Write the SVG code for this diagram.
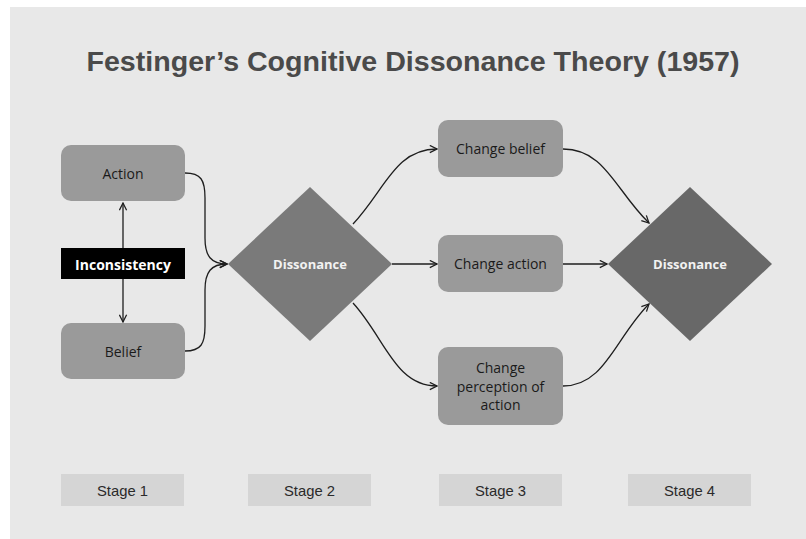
<svg xmlns="http://www.w3.org/2000/svg" width="806" height="539" viewBox="0 0 806 539">
  <defs>
    <style>
      .box { fill: #9a9a9a; }
      .stage { fill: #d5d5d5; }
      .lbl { font-family: "Open Sans", "Liberation Sans", sans-serif; font-size: 14px; fill: #1a1a1a; text-anchor: middle; dominant-baseline: central; }
      .dlbl { font-family: "Open Sans", "Liberation Sans", sans-serif; font-size: 13px; font-weight: bold; fill: #f2f2f2; text-anchor: middle; dominant-baseline: central; }
      .slbl { font-family: "Liberation Sans", "DejaVu Sans", sans-serif; font-size: 15px; fill: #2a2a2a; text-anchor: middle; dominant-baseline: central; }
      .conn { fill: none; stroke: #1e1e1e; stroke-width: 1.3; marker-end: url(#arrow); }
    </style>
    <marker id="arrow" viewBox="0 0 10 10" refX="9" refY="5" markerWidth="9" markerHeight="9" markerUnits="userSpaceOnUse" orient="auto-start-reverse">
      <path d="M1,1 L9,5 L1,9" fill="none" stroke="#1e1e1e" stroke-width="1.4"/>
    </marker>
  </defs>

  <!-- canvas -->
  <rect x="0" y="0" width="806" height="539" fill="#ffffff"/>
  <rect x="10" y="7" width="796" height="532" fill="#e8e8e8"/>

  <!-- title -->
  <text x="413" y="71" text-anchor="middle" font-family="Liberation Sans, sans-serif" font-size="28" font-weight="bold" fill="#4a4a4a" textLength="653" lengthAdjust="spacingAndGlyphs">Festinger’s Cognitive Dissonance Theory (1957)</text>

  <!-- connectors -->
  <g id="connectors">
    <path class="conn" d="M123,248 L123,203"/>
    <path class="conn" d="M123,279 L123,322"/>
    <path class="conn" d="M185,173 C201,173 205,180 205,198 L205,238 C205,256 211,264 227,264"/>
    <path class="conn" d="M185,351 C201,351 205,344 205,326 L205,290 C205,272 211,264 227,264"/>
    <path class="conn" d="M353,224 C385,190 395,149 437,149"/>
    <path class="conn" d="M392,264 L437,264"/>
    <path class="conn" d="M353,303 C385,338 395,386 437,386"/>
    <path class="conn" d="M563,149 C605,149 615,190 649,223"/>
    <path class="conn" d="M563,264 L607,264"/>
    <path class="conn" d="M563,386 C605,386 615,338 649,304"/>
  </g>

  <!-- stage 1 -->
  <g id="action">
    <rect class="box" x="61" y="145" width="124" height="56" rx="10"/>
    <text class="lbl" x="123" y="173">Action</text>
  </g>
  <g id="inconsistency">
    <rect x="61" y="248" width="124" height="31" fill="#000000"/>
    <text x="123" y="264" font-family="Open Sans, Liberation Sans, sans-serif" font-size="14" font-weight="bold" fill="#ffffff" text-anchor="middle" dominant-baseline="central">Inconsistency</text>
  </g>
  <g id="belief">
    <rect class="box" x="61" y="323" width="124" height="56" rx="10"/>
    <text class="lbl" x="123" y="351">Belief</text>
  </g>

  <!-- stage 2 -->
  <g id="dissonance-1">
    <polygon points="310,187 392,264 310,341 228,264" fill="#7a7a7a"/>
    <text class="dlbl" x="310" y="264">Dissonance</text>
  </g>

  <!-- stage 3 -->
  <g id="change-belief">
    <rect class="box" x="438" y="120" width="125" height="57" rx="10"/>
    <text class="lbl" x="500.5" y="148">Change belief</text>
  </g>
  <g id="change-action">
    <rect class="box" x="438" y="235" width="125" height="57" rx="10"/>
    <text class="lbl" x="500.5" y="263">Change action</text>
  </g>
  <g id="change-perception">
    <rect class="box" x="438" y="347" width="125" height="78" rx="10"/>
    <text class="lbl" x="500.5" y="367">Change</text>
    <text class="lbl" x="500.5" y="386">perception of</text>
    <text class="lbl" x="500.5" y="404">action</text>
  </g>

  <!-- stage 4 -->
  <g id="dissonance-2">
    <polygon points="690,187 772,264 690,341 608,264" fill="#686868"/>
    <text class="dlbl" x="690" y="264">Dissonance</text>
  </g>

  <!-- stage labels -->
  <g id="stage-1">
    <rect class="stage" x="61" y="474" width="123" height="32"/>
    <text class="slbl" x="122.5" y="490" textLength="51" lengthAdjust="spacingAndGlyphs">Stage 1</text>
  </g>
  <g id="stage-2">
    <rect class="stage" x="248" y="474" width="123" height="32"/>
    <text class="slbl" x="309.5" y="490" textLength="51" lengthAdjust="spacingAndGlyphs">Stage 2</text>
  </g>
  <g id="stage-3">
    <rect class="stage" x="439" y="474" width="123" height="32"/>
    <text class="slbl" x="500.5" y="490" textLength="51" lengthAdjust="spacingAndGlyphs">Stage 3</text>
  </g>
  <g id="stage-4">
    <rect class="stage" x="628" y="474" width="123" height="32"/>
    <text class="slbl" x="689.5" y="490" textLength="51" lengthAdjust="spacingAndGlyphs">Stage 4</text>
  </g>
</svg>
